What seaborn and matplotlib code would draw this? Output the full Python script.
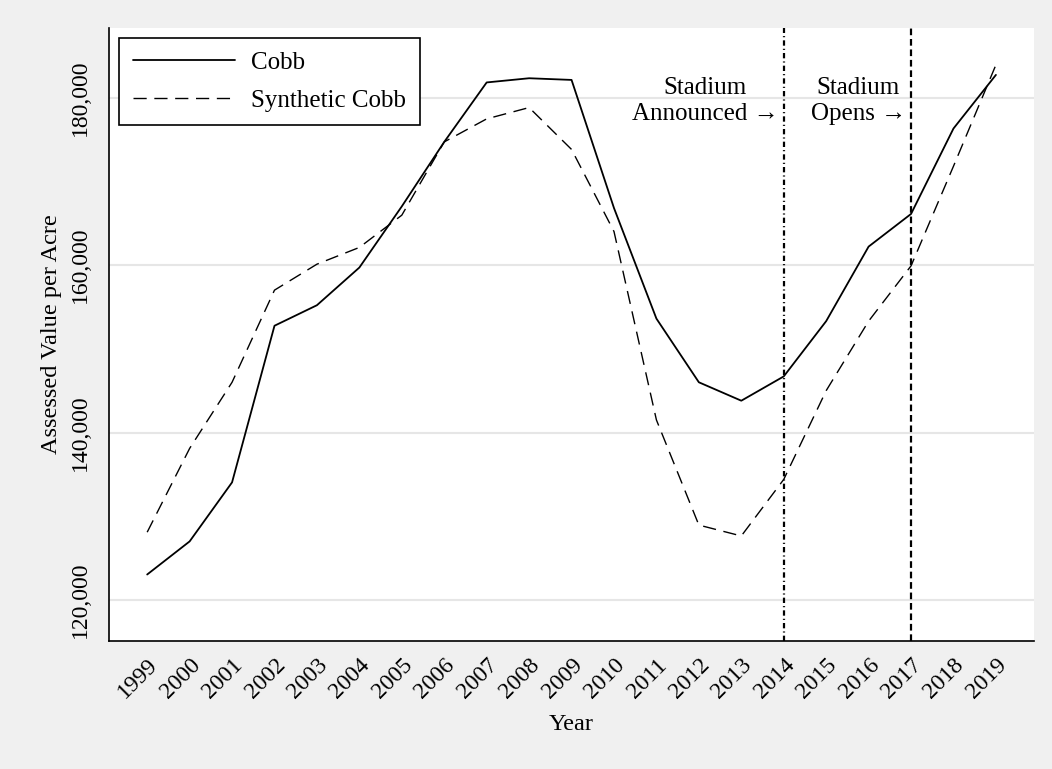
import matplotlib
matplotlib.use("Agg")
import matplotlib.pyplot as plt
import numpy as np
import pandas as pd
import seaborn as sns
from matplotlib.ticker import FuncFormatter

years = list(range(1999, 2020))
cobb = [123050, 127000, 134050, 152750, 155200, 159700, 167000, 174700, 181800,
        182300, 182100, 166800, 153600, 146000, 143800, 146700, 153300, 162200,
        166100, 176300, 182700]
synthetic = [128100, 138100, 146000, 157000, 160100, 162100, 165950, 174700, 177450,
             178800, 173800, 164000, 141500, 128950, 127650, 134400, 145000, 153300,
             159900, 171800, 183900]
y_ticks = [120000, 140000, 160000, 180000]
events = [(2014, "Stadium\nAnnounced \u2192"), (2017, "Stadium\nOpens \u2192")]

FONT = ["Liberation Serif", "DejaVu Serif"]

sns.set_theme(style="white")
plt.rcParams["font.family"] = FONT
plt.rcParams["text.color"] = "black"
plt.rcParams["axes.labelcolor"] = "black"
plt.rcParams["axes.unicode_minus"] = False

df = pd.DataFrame({"Year": years, "Cobb": cobb, "Synthetic Cobb": synthetic})

fig = plt.figure(figsize=(10.52, 7.69), dpi=100, facecolor="#f0f0f0")
ax = fig.add_axes([0.1036, 0.167, 0.8794, 0.7966])
ax.set_facecolor("white")

sns.lineplot(data=df, x="Year", y="Cobb", ax=ax, color="black", linewidth=1.3,
             label="Cobb")
sns.lineplot(data=df, x="Year", y="Synthetic Cobb", ax=ax, color="black",
             linewidth=1.0, linestyle=(0, (9.5, 5.5)), label="Synthetic Cobb")

ax.axvline(events[0][0], color="black", linewidth=1.6,
           linestyle=(0, (2.4, 1.4, 0.5, 1.4)), zorder=3)
ax.axvline(events[1][0], color="black", linewidth=1.6,
           linestyle=(0, (3.0, 1.7)), zorder=3)

for yr, txt in events:
    ax.text(yr - 0.12, 179600, txt, ha="right", va="center", multialignment="center",
            fontsize=18, family=FONT, linespacing=1.2)

ax.set_xlim(1998.1, 2019.9)
ax.set_ylim(115160, 188300)
ax.set_xticks(years)
ax.set_xticklabels([str(y) for y in years], rotation=45, ha="right",
                   rotation_mode="anchor")
ax.set_yticks(y_ticks)
ax.yaxis.set_major_formatter(FuncFormatter(lambda v, p: f"{int(v):,}"))
for lab in ax.get_yticklabels():
    lab.set_rotation(90)
    lab.set_va("center")

ax.grid(axis="y", color="#e6e6e6", linewidth=1.5)
ax.grid(axis="x", visible=False)
ax.set_axisbelow(True)

for side in ["top", "right"]:
    ax.spines[side].set_visible(False)
for side in ["left", "bottom"]:
    ax.spines[side].set_color("black")
    ax.spines[side].set_linewidth(1.2)

ax.tick_params(axis="both", direction="out", length=7, width=1.2, color="black",
               labelsize=17, labelcolor="black")
ax.tick_params(axis="x", pad=3)
ax.tick_params(axis="y", pad=6)

ax.set_xlabel("Year", fontsize=17.5, labelpad=8)
ax.set_ylabel("Assessed Value per Acre", fontsize=17.5, labelpad=6)

leg = ax.legend(loc="upper left", bbox_to_anchor=(0.0108, 0.9837), borderaxespad=0,
                frameon=True, fancybox=False, edgecolor="black", facecolor="white",
                framealpha=1, fontsize=18, handlelength=4.1, handletextpad=0.65,
                labelspacing=0.6, borderpad=0.55)
leg.get_frame().set_linewidth(1.2)
for t in leg.get_texts():
    t.set_color("black")

fig.savefig("out.png", dpi=100, facecolor=fig.get_facecolor())
